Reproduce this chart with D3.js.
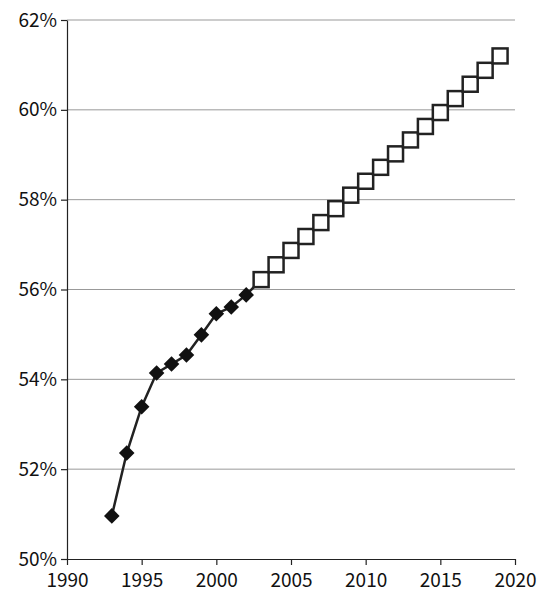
<!DOCTYPE html>
<html><head><meta charset="utf-8">
<script src="https://cdn.jsdelivr.net/npm/d3@7"></script>
<style>body{margin:0;background:#fff}text{font-family:"Noto Sans CJK JP",sans-serif}</style>
</head><body><svg id="c" width="544" height="605"></svg>
<script>
const actualYears = [1993,1994,1995,1996,1997,1998,1999,2000,2001,2002]
const actualVals = [50.96,52.36,53.39,54.14,54.34,54.54,54.99,55.46,55.61,55.88]
const projYears = [2003,2004,2005,2006,2007,2008,2009,2010,2011,2012,2013,2014,2015,2016,2017,2018,2019]
const projVals = [56.22,56.55,56.87,57.18,57.49,57.80,58.10,58.41,58.72,59.02,59.33,59.63,59.94,60.25,60.57,60.88,61.20]
const xTicks = [1990,1995,2000,2005,2010,2015,2020]
const yTicks = [50,52,54,56,58,60,62]

const svg = d3.select('#c')
const x = d3.scaleLinear().domain([1990,2020]).range([67,515])
const y = d3.scaleLinear().domain([50,62]).range([559,20])

// gridlines
svg.selectAll('.g').data(yTicks.slice(1)).join('line')
    .attr('x1', 67).attr('x2', 515)
    .attr('y1', d => y(d)).attr('y2', d => y(d))
    .attr('stroke', '#999').attr('stroke-width', 1)

const xa = svg.append('g').attr('transform', 'translate(0,559)')
    .call(d3.axisBottom(x).tickValues(xTicks).tickFormat(d3.format('d')).tickSize(6).tickSizeOuter(0))
xa.selectAll('text').attr('font-size', 19).attr('dy', '1.0em').attr('fill', '#111')
const ya = svg.append('g').attr('transform', 'translate(67,0)')
    .call(d3.axisLeft(y).tickValues(yTicks).tickFormat(d => d + '%').tickSize(6).tickSizeOuter(0))
ya.selectAll('text').attr('font-size', 19).attr('dx', '-0.05em').attr('fill', '#111')
svg.selectAll('.domain, .tick line').attr('stroke', '#222').attr('stroke-width', 1.2)

const all = actualYears.map((d, i) => [d, actualVals[i]]).concat(projYears.map((d, i) => [d, projVals[i]]))
svg.append('path').datum(all)
    .attr('d', d3.line().x(d => x(d[0])).y(d => y(d[1])))
    .attr('fill', 'none').attr('stroke', '#222').attr('stroke-width', 2.5)

svg.selectAll('.dia').data(actualYears).join('rect')
    .attr('x', -5.5).attr('y', -5.5).attr('width', 11).attr('height', 11)
    .attr('transform', (d, i) => `translate(${x(d)},${y(actualVals[i])}) rotate(45)`)
    .attr('fill', '#111')

svg.selectAll('.sq').data(projYears).join('rect')
    .attr('x', (d) => x(d) - 7.5).attr('y', (d, i) => y(projVals[i]) - 7.5)
    .attr('width', 15).attr('height', 15)
    .attr('fill', '#fff').attr('stroke', '#222').attr('stroke-width', 2.5)
</script></body></html>
